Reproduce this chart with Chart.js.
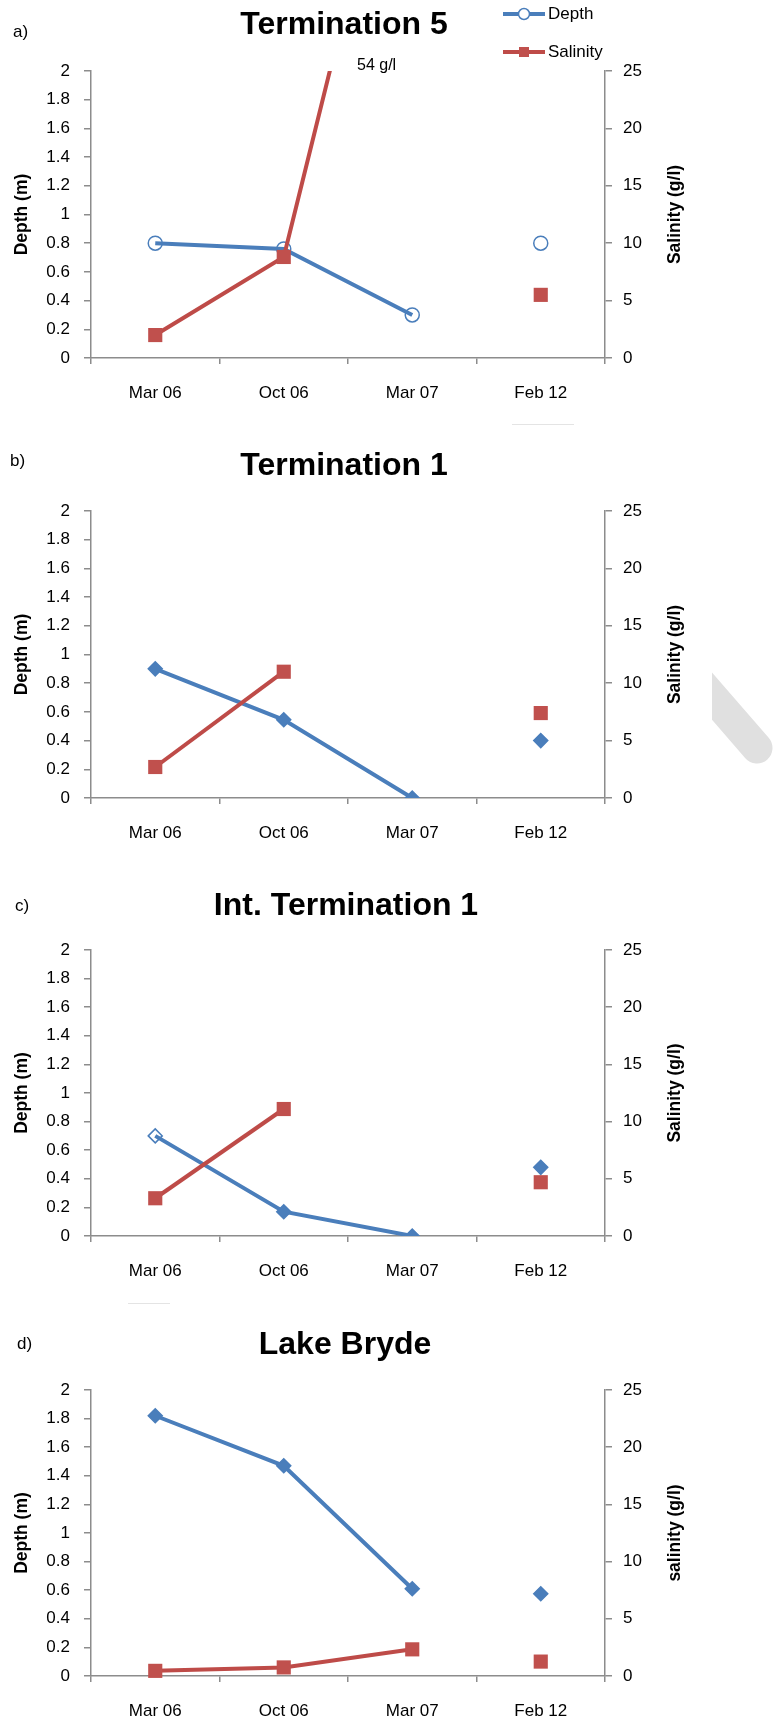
<!DOCTYPE html>
<html>
<head>
<meta charset="utf-8">
<script src="https://cdn.jsdelivr.net/npm/chart.js@4.4.0/dist/chart.umd.min.js"></script>
<style>
  html, body { margin: 0; padding: 0; background: #fff; }
  body { width: 776px; height: 1719px; position: relative; overflow: hidden; }
  canvas { position: absolute; left: 0; }
  .mark { position: absolute; background: #e4e4e4; height: 1px; }
  svg.smudge { position: absolute; left: 712px; top: 640px; }
</style>
</head>
<body>
<canvas id="panelA" width="776" height="420" style="top:0"></canvas>
<canvas id="panelB" width="776" height="440" style="top:420px"></canvas>
<canvas id="panelC" width="776" height="438" style="top:860px"></canvas>
<canvas id="panelD" width="776" height="421" style="top:1298px"></canvas>
<div class="mark" style="left:512px;top:424px;width:62px"></div>
<div class="mark" style="left:128px;top:1303px;width:42px"></div>
<svg class="smudge" width="64" height="140">
  <line x1="-21" y1="32" x2="45" y2="108" stroke="#e0e0e0" stroke-width="31" stroke-linecap="round"/>
</svg>
<script>
// sampling dates
const categories = ["Mar 06", "Oct 06", "Mar 07", "Feb 12"];
const depthTicks = [0, 0.2, 0.4, 0.6, 0.8, 1, 1.2, 1.4, 1.6, 1.8, 2];
const salinityTicks = [0, 5, 10, 15, 20, 25];

// a) Termination 5  (salinity Mar 07 = 54 g/l, off scale)
const term5Depth = [0.8, 0.76, 0.3, 0.8];
const term5Salinity = [2, 8.8, 54, 5.5];
// b) Termination 1
const term1Depth = [0.9, 0.545, 0, 0.4];
const term1Salinity = [2.7, 11, null, 7.4];
// c) Int. Termination 1
const intTerm1Depth = [0.7, 0.17, 0, 0.48];
const intTerm1Salinity = [3.3, 11.1, null, 4.7];
// d) Lake Bryde
const brydeDepth = [1.82, 1.47, 0.61, 0.575];
const brydeSalinity = [0.45, 0.75, 2.33, 1.26];

const blue = "#4a7ebb";
const red = "#be4b48";
const redFill = "#c0504d";
const axisGray = "#8c8c8c";
const sans = "'Liberation Sans', Arial, sans-serif";
const tickFont = { family: sans, size: 17 };
const clear = "rgba(255,255,255,0)";

// titles, panel letters, axis titles, legend, note
const panelDecor = {
  id: "panelDecor",
  afterDraw(chart, args, o) {
    const ctx = chart.ctx;
    const area = chart.chartArea;
    const midY = (area.top + area.bottom) / 2;
    ctx.save();
    ctx.fillStyle = "#000";
    ctx.textBaseline = "middle";

    ctx.font = "bold 32px " + sans;
    ctx.textAlign = "center";
    ctx.fillText(o.title, o.titleX, o.titleY);

    ctx.font = "17px " + sans;
    ctx.textAlign = "left";
    ctx.fillText(o.tag, o.tagX, o.tagY);

    // axis titles, both read bottom to top
    ctx.font = "bold 17.5px " + sans;
    ctx.textAlign = "center";
    ctx.textBaseline = "alphabetic";
    [[o.leftTitle, 27], [o.rightTitle, 680]].forEach(([t, x]) => {
      ctx.save();
      ctx.translate(x, midY);
      ctx.rotate(-Math.PI / 2);
      ctx.fillText(t, 0, 0);
      ctx.restore();
    });
    ctx.textBaseline = "middle";

    if (o.note) {
      ctx.font = "16px " + sans;
      ctx.textAlign = "left";
      ctx.fillText(o.note.text, o.note.x, o.note.y);
    }

    if (o.legend) {
      const rows = [[0, 14], [1, 52]];
      rows.forEach(([i, y]) => {
        const ds = chart.data.datasets[i];
        ctx.strokeStyle = ds.borderColor;
        ctx.lineWidth = ds.borderWidth;
        ctx.beginPath();
        ctx.moveTo(503, y);
        ctx.lineTo(545, y);
        ctx.stroke();
        if (ds.pointStyle === "circle") {
          ctx.fillStyle = "#fff";
          ctx.lineWidth = 1.5;
          ctx.beginPath();
          ctx.arc(524, y, 5.5, 0, Math.PI * 2);
          ctx.fill();
          ctx.stroke();
        } else {
          ctx.fillStyle = redFill;
          ctx.fillRect(519, y - 5, 10, 10);
        }
        ctx.fillStyle = "#000";
        ctx.font = "17px " + sans;
        ctx.textAlign = "left";
        ctx.fillText(ds.label, 548, y);
      });
    }
    ctx.restore();
  }
};

function hideLastSegment(color) {
  return c => (c.p1DataIndex === 3 ? clear : color);
}

function makePanel(id, depth, salinity, p) {
  return new Chart(document.getElementById(id), {
    type: "line",
    data: {
      labels: categories,
      datasets: [
        {
          label: "Depth",
          data: depth,
          yAxisID: "y",
          order: 1,
          borderColor: blue,
          borderWidth: 4,
          pointStyle: p.depthStyle,
          pointRadius: 7,
          pointBorderWidth: 1.5,
          pointBorderColor: blue,
          pointBackgroundColor: p.depthFill,
          spanGaps: false,
          segment: { borderColor: hideLastSegment(blue) }
        },
        {
          label: "Salinity",
          data: salinity,
          yAxisID: "y1",
          order: 0,
          borderColor: red,
          borderWidth: 4,
          pointStyle: "rect",
          pointRadius: 10,
          pointBorderWidth: 0,
          pointBorderColor: redFill,
          pointBackgroundColor: redFill,
          spanGaps: false,
          clip: { left: 20, top: 0, right: 20, bottom: 20 },
          segment: { borderColor: hideLastSegment(red) }
        }
      ]
    },
    options: {
      responsive: false,
      animation: false,
      events: [],
      layout: { padding: { top: p.padTop, left: 0, right: 0, bottom: 0 } },
      plugins: {
        legend: { display: false },
        tooltip: { enabled: false },
        panelDecor: p
      },
      scales: {
        x: {
          offset: true,
          grid: { offset: true, drawOnChartArea: false, color: axisGray, lineWidth: 1.5, tickLength: 6 },
          border: { color: axisGray, width: 1.5 },
          ticks: { color: "#000", font: tickFont, padding: 19, maxRotation: 0, autoSkip: false },
          afterFit: s => { s.height = p.xHeight; }
        },
        y: {
          position: "left",
          min: depthTicks[0],
          max: depthTicks[depthTicks.length - 1],
          afterBuildTicks: s => { s.ticks = depthTicks.map(v => ({ value: v })); },
          grid: { drawOnChartArea: false, color: axisGray, lineWidth: 1.5, tickLength: 7 },
          border: { color: axisGray, width: 1.5 },
          ticks: { color: "#000", font: tickFont, padding: 14, callback: v => String(Math.round(v * 10) / 10) },
          afterFit: s => { s.width = 91; }
        },
        y1: {
          position: "right",
          min: salinityTicks[0],
          max: salinityTicks[salinityTicks.length - 1],
          afterBuildTicks: s => { s.ticks = salinityTicks.map(v => ({ value: v })); },
          grid: { drawOnChartArea: false, color: axisGray, lineWidth: 1.5, tickLength: 7 },
          border: { color: axisGray, width: 1.5 },
          ticks: { color: "#000", font: tickFont, padding: 11 },
          afterFit: s => { s.width = 171; }
        }
      }
    },
    plugins: [panelDecor]
  });
}

makePanel("panelA", term5Depth, term5Salinity, {
  title: "Termination 5", titleX: 344, titleY: 25,
  tag: "a)", tagX: 13, tagY: 32,
  leftTitle: "Depth (m)", rightTitle: "Salinity (g/l)",
  padTop: 71, xHeight: 62,
  depthStyle: "circle", depthFill: clear,
  legend: true,
  note: { text: "54 g/l", x: 357, y: 66 }
});

makePanel("panelB", term1Depth, term1Salinity, {
  title: "Termination 1", titleX: 344, titleY: 46,
  tag: "b)", tagX: 10, tagY: 41,
  leftTitle: "Depth (m)", rightTitle: "Salinity (g/l)",
  padTop: 91, xHeight: 62,
  depthStyle: "rectRot", depthFill: blue
});

makePanel("panelC", intTerm1Depth, intTerm1Salinity, {
  title: "Int. Termination 1", titleX: 346, titleY: 46,
  tag: "c)", tagX: 15, tagY: 46,
  leftTitle: "Depth (m)", rightTitle: "Salinity (g/l)",
  padTop: 90, xHeight: 62,
  depthStyle: "rectRot", depthFill: [clear, blue, blue, blue]
});

makePanel("panelD", brydeDepth, brydeSalinity, {
  title: "Lake Bryde", titleX: 345, titleY: 47,
  tag: "d)", tagX: 17, tagY: 46,
  leftTitle: "Depth (m)", rightTitle: "salinity (g/l)",
  padTop: 92, xHeight: 43,
  depthStyle: "rectRot", depthFill: blue
});
</script>
</body>
</html>
